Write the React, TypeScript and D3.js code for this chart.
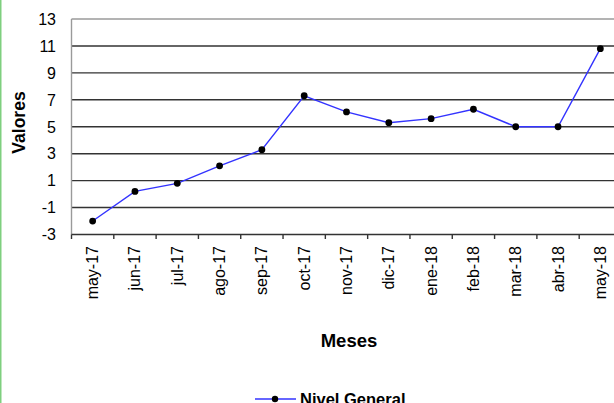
import React from "react";
import * as d3 from "d3";

const months = ["may-17","jun-17","jul-17","ago-17","sep-17","oct-17","nov-17","dic-17","ene-18","feb-18","mar-18","abr-18","may-18"];
const values = [-2.0, 0.2, 0.8, 2.1, 3.3, 7.3, 6.1, 5.3, 5.6, 6.3, 5.0, 5.0, 10.8];
const yTicks = [-3, -1, 1, 3, 5, 7, 9, 11, 13];
const seriesName = "Nivel General";

export default function App() {
  const W = 614, H = 403;
  const left = 71.5, right = 621.5, top = 19, bottom = 234.5;
  const x = d3.scaleBand<string>().domain(months).range([left, right]);
  const y = d3.scaleLinear().domain([-3, 13]).range([bottom, top]);
  const cxOf = (m: string) => (x(m) as number) + x.bandwidth() / 2;
  const line = d3.line<number>().x((_, i) => cxOf(months[i])).y(d => y(d));
  const font = "Arial, 'Liberation Sans', sans-serif";
  return (
    <svg width={W} height={H} style={{ position: "absolute", left: 0, top: 0 }}>
      <rect x={0} y={0} width={W} height={H} fill="#fff" />
      <line x1={0.75} x2={0.75} y1={0} y2={H} stroke="#7fcf7f" strokeWidth={1.5} />
      {yTicks.filter(t => t > -3).map(t => (
        <line key={t} x1={left} x2={W} y1={y(t)} y2={y(t)} stroke={t === 13 ? "#9a9a9a" : "#333"} strokeWidth={1.4} />
      ))}
      <line x1={left} x2={left} y1={top} y2={bottom} stroke="#9a9a9a" strokeWidth={1.4} />
      <line x1={left} x2={W} y1={bottom} y2={bottom} stroke="#333" strokeWidth={1.4} />
      {months.map(m => (
        <line key={m} x1={x(m)} x2={x(m)} y1={bottom} y2={bottom + 4.5} stroke="#333" strokeWidth={1.4} />
      ))}
      {yTicks.map(t => (
        <text key={t} x={56} y={y(t) + 5.8} textAnchor="end" fontFamily={font} fontSize={16} fill="#000">{t}</text>
      ))}
      {months.map(m => (
        <text key={m} transform={`translate(${cxOf(m) + 5.5},${246}) rotate(-90)`} textAnchor="end" fontFamily={font} fontSize={16} fill="#000">{m}</text>
      ))}
      <text transform={`translate(25,122.5) rotate(-90)`} textAnchor="middle" fontFamily={font} fontSize={17.5} fontWeight="bold">Valores</text>
      <text x={349} y={347} textAnchor="middle" fontFamily={font} fontSize={18.5} fontWeight="bold">Meses</text>
      <path d={line(values) || ""} fill="none" stroke="#3333ff" strokeWidth={1.4} />
      {values.map((v, i) => (
        <circle key={i} cx={cxOf(months[i])} cy={y(v)} r={3.4} fill="#000" />
      ))}
      <line x1={255} x2={296} y1={399} y2={399} stroke="#3333ff" strokeWidth={1.4} />
      <circle cx={275} cy={399} r={3.2} fill="#000" />
      <text x={300} y={405} fontFamily={font} fontSize={16.5} fontWeight="bold">{seriesName}</text>
    </svg>
  );
}
